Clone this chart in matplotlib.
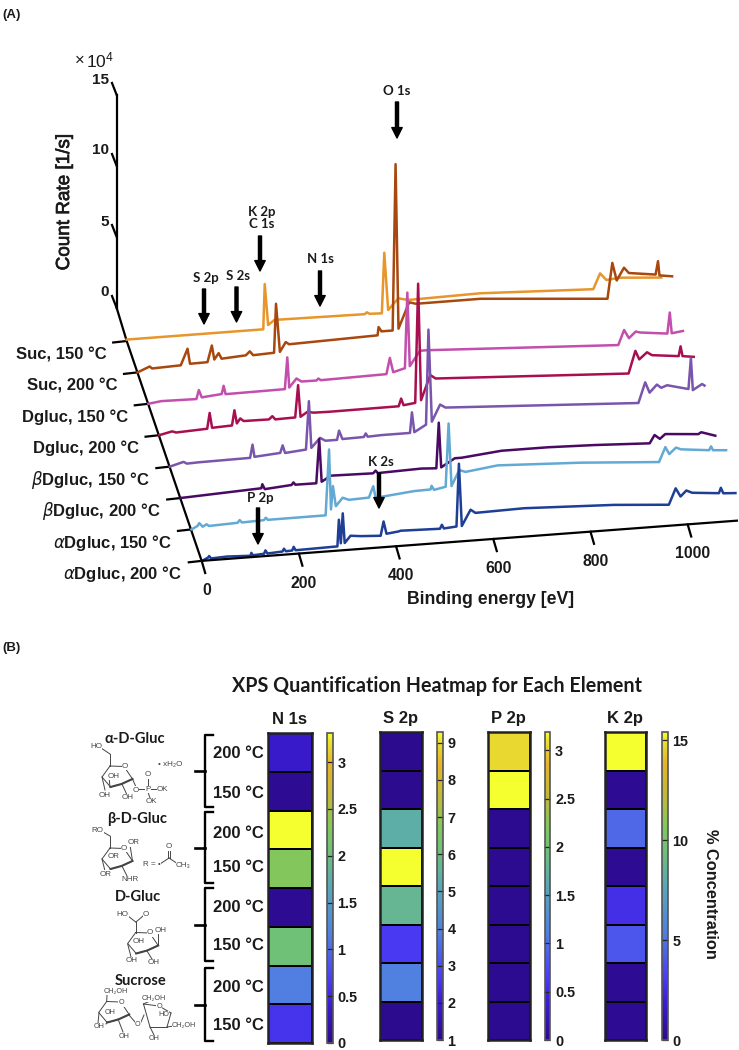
import numpy as np
import matplotlib
matplotlib.use('Agg')
import matplotlib.pyplot as plt
import matplotlib.patheffects as pe
from matplotlib.colors import LinearSegmentedColormap
from matplotlib.transforms import Affine2D

plt.rcParams['font.family'] = ['Liberation Sans', 'DejaVu Sans']
plt.rcParams['mathtext.default'] = 'regular'

# (A) survey spectra, binding energy [eV] and count rate [x10^4 1/s]
suc150_e = [0, 281, 284, 291, 308, 312, 490, 494, 500, 525, 530, 538, 559, 579, 727, 960, 974, 987, 1015, 1100]
suc150_c = [0.1, 0.1, 3.28, 0.38, 0.8, 0.7, 0.63, 0.75, 0.63, 0.6, 4.85, 0.8, 1.57, 1.4, 1.49, 1.18, 2.26, 1.76, 1.85, 1.64]
suc200_e = [0, 25, 30, 89, 103, 108, 144, 153, 158, 167, 173, 223, 231, 238, 281, 285, 293, 305, 312, 494, 496, 502, 525, 531, 537, 559, 573, 706, 967, 977, 986, 1001, 1011, 1066, 1071, 1074, 1100]
suc200_c = [0.0, 0.35, 0.2, 0.27, 1.4, 0.33, 0.35, 1.5, 0.5, 0.93, 0.52, 0.63, 0.89, 0.6, 0.66, 4.1, 0.69, 1.35, 1.18, 1.34, 1.92, 1.6, 1.6, 13.3, 1.7, 3.5, 3.36, 3.37, 2.7, 5.2, 3.94, 4.8, 4.4, 4.15, 5.08, 4.07, 3.94]
dg150_e = [0, 27, 99, 104, 110, 151, 155, 159, 281, 286, 290, 305, 315, 346, 350, 355, 490, 497, 504, 528, 533, 538, 559, 573, 967, 979, 989, 1003, 1012, 1068, 1073, 1077, 1100]
dg150_c = [0.0, 0.12, 0.08, 0.7, 0.17, 0.3, 0.87, 0.27, 0.31, 2.53, 0.4, 1.0, 0.76, 0.75, 0.88, 0.75, 0.83, 1.95, 0.93, 1.15, 6.46, 1.27, 2.3, 2.3, 1.65, 2.68, 2.08, 2.51, 2.42, 2.2, 3.67, 2.2, 2.3]
dg200_e = [0, 27, 35, 99, 104, 109, 150, 155, 160, 167, 174, 226, 233, 239, 280, 286, 291, 305, 318, 349, 493, 498, 503, 527, 533, 539, 558, 569, 966, 980, 988, 1004, 1014, 1069, 1073, 1077, 1100]
dg200_c = [0.0, 0.2, 0.1, 0.2, 1.3, 0.24, 0.3, 1.36, 0.42, 0.75, 0.55, 0.53, 0.74, 0.5, 0.53, 2.79, 0.55, 0.86, 0.77, 0.75, 0.77, 1.3, 0.82, 0.92, 9.3, 1.08, 2.8, 2.53, 1.86, 3.42, 2.8, 3.26, 3.03, 2.82, 3.5, 2.8, 2.69]
bg150_e = [0, 28, 35, 59, 165, 170, 174, 227, 232, 237, 280, 286, 291, 309, 320, 344, 348, 355, 399, 403, 407, 436, 494, 498, 503, 527, 532, 539, 556, 567, 964, 978, 987, 1002, 1011, 1023, 1067, 1072, 1076, 1095, 1100]
bg150_c = [0.0, 0.26, 0.12, 0.15, 0.19, 1.11, 0.24, 0.38, 0.9, 0.35, 0.48, 3.87, 0.57, 1.23, 1.0, 1.0, 1.64, 1.03, 1.06, 1.3, 1.06, 1.1, 1.1, 2.54, 1.13, 1.6, 8.28, 1.78, 2.94, 2.7, 2.0, 3.42, 2.67, 3.2, 2.95, 3.1, 2.72, 4.9, 2.62, 3.0, 2.88]
bg200_e = [0, 166, 168, 173, 228, 232, 236, 279, 285, 290, 300, 307, 396, 401, 406, 413, 495, 526, 531, 536, 564, 578, 660, 756, 852, 965, 975, 986, 997, 1065, 1071, 1100]
bg200_c = [0.0, 0.26, 0.54, 0.18, 0.33, 0.5, 0.33, 0.32, 3.42, 0.4, 0.6, 0.78, 0.72, 0.9, 0.7, 0.72, 0.8, 0.74, 3.94, 0.78, 1.35, 1.35, 1.63, 1.63, 1.54, 1.37, 1.93, 1.63, 1.94, 1.76, 1.88, 1.56]
ag150_e = [0, 12, 16, 23, 31, 36, 95, 99, 104, 149, 153, 157, 276, 283, 287, 291, 297, 311, 324, 365, 374, 379, 458, 492, 494, 499, 523, 529, 535, 551, 564, 630, 801, 962, 975, 983, 997, 1007, 1065, 1069, 1073, 1100]
ag150_c = [0.0, 0.2, 0.4, 0.13, 0.28, 0.15, 0.22, 0.4, 0.22, 0.27, 0.43, 0.27, 0.28, 4.9, 0.67, 2.3, 0.87, 1.43, 1.25, 1.3, 2.08, 1.25, 1.52, 1.55, 1.8, 1.5, 1.66, 6.1, 1.68, 2.76, 2.6, 2.89, 2.64, 2.27, 3.29, 2.78, 3.2, 3.05, 2.84, 3.1, 2.82, 2.75]
ag200_e = [0, 12, 14, 18, 51, 99, 101, 104, 127, 130, 134, 165, 168, 172, 185, 188, 192, 278, 281, 285, 289, 293, 305, 326, 367, 373, 379, 404, 408, 489, 493, 497, 523, 528, 534, 552, 562, 662, 847, 960, 974, 984, 996, 1008, 1063, 1067, 1072, 1097]
ag200_c = [0.0, 0.2, 0.3, 0.12, 0.17, 0.1, 0.3, 0.12, 0.17, 0.4, 0.17, 0.23, 0.42, 0.23, 0.25, 0.5, 0.25, 0.3, 2.17, 0.5, 2.6, 0.5, 0.98, 0.9, 0.82, 1.81, 0.93, 1.03, 1.07, 1.0, 1.27, 1.0, 1.07, 5.48, 1.08, 2.18, 1.93, 2.0, 1.76, 1.48, 2.6, 2.0, 2.39, 2.2, 2.03, 2.4, 2.0, 1.95]

trace_e = [suc150_e, suc200_e, dg150_e, dg200_e, bg150_e, bg200_e, ag150_e, ag200_e]
trace_c = [suc150_c, suc200_c, dg150_c, dg200_c, bg150_c, bg200_c, ag150_c, ag200_c]
trace_colors = ['#E8952B', '#A8480F', '#C24FAC', '#A80F50', '#7A55AC', '#4A0A64', '#62A9D3', '#1F3F95']
trace_names = ['Suc, 150 °C', 'Suc, 200 °C', 'Dgluc, 150 °C', 'Dgluc, 200 °C',
               r'$\mathit{\beta}$Dgluc, 150 °C', r'$\mathit{\beta}$Dgluc, 200 °C',
               r'$\mathit{\alpha}$Dgluc, 150 °C', r'$\mathit{\alpha}$Dgluc, 200 °C']
energy_ticks = [0, 200, 400, 600, 800, 1000]
count_ticks = [0, 5, 10, 15]

# (B) % concentration, rows top to bottom
rows = ['200 °C', '150 °C'] * 4
n1s = [0.35, 0.05, 3.31, 2.3, 0.05, 2.05, 1.15, 0.6]
s2p = [1.05, 1.05, 5.4, 9.29, 5.7, 2.65, 3.9, 1.05]
p2p = [3.05, 3.19, 0.03, 0.03, 0.03, 0.03, 0.03, 0.03]
k2p = [15.4, 0.2, 4.6, 0.2, 2.6, 4.0, 0.2, 0.2]
heat_names = ['N 1s', 'S 2p', 'P 2p', 'K 2p']
heat_values = [n1s, s2p, p2p, k2p]
heat_limits = [(0, 3.31), (1, 9.29), (0, 3.19), (0, 15.4)]
heat_ticks = [[0, 0.5, 1, 1.5, 2, 2.5, 3], [1, 2, 3, 4, 5, 6, 7, 8, 9],
              [0, 0.5, 1, 1.5, 2, 2.5, 3], [0, 5, 10, 15]]

cmap = LinearSegmentedColormap.from_list('xps', [
    (0, '#2C0A8C'), (0.12, '#3A1CD2'), (0.2, '#4A3BF5'), (0.35, '#5080E0'),
    (0.5, '#58A8B8'), (0.62, '#70C178'), (0.7, '#85C85A'), (0.8, '#C4B838'),
    (0.9, '#E6B42A'), (0.97, '#E8E030'), (1, '#F5FF30')])

W, H = 739, 1050
fig = plt.figure(figsize=(W / 100, H / 100), dpi=100)
ax = fig.add_axes([0, 0, 1, 1])
ax.set_xlim(0, W)
ax.set_ylim(H, 0)
ax.axis('off')
CAL = ['Lato', 'DejaVu Sans']
INK = '#1A1A1A'


def projection(i):
    # energy/count to page position for the i-th trace of the waterfall
    x0 = 126.7 + 10.8 * i
    y0 = 341 + 31.4 * i
    return Affine2D.from_values(0.486, -0.0365, 0, -14.2, x0, y0) + ax.transData


def px_axes(x0, y0, x1, y1):
    return fig.add_axes([x0 / W, 1 - y1 / H, (x1 - x0) / W, (y1 - y0) / H])


ax.text(2, 15, '(A)', fontsize=9.5, fontweight='bold', va='center', color=INK)
ax.text(2, 648, '(B)', fontsize=9.5, fontweight='bold', va='center', color=INK)

for i in range(8):
    ax.plot(trace_e[i], trace_c[i], color=trace_colors[i], lw=1.8, transform=projection(i),
            solid_joinstyle='round', zorder=3 + i * 0.1)

# axes of the waterfall
front = projection(7)
ax.plot([116.7, 116.7], [95, 308], color='k', lw=1.6, zorder=2)
ax.plot([116.7, 126.7, 201.7], [308, 341, 561], color='k', lw=1.6, zorder=2)
ax.plot([0, 1100], [0, 0], color='k', lw=1.6, transform=front, zorder=4.5)
for t in count_ticks:
    yt = 308 - t * 14.2
    ax.plot([112, 116.7], [yt - 12, yt], color='k', lw=1.6)
    ax.text(109, yt - 15.5, str(t), ha='right', va='center', fontsize=11, fontweight='bold', color=INK)
for i in range(8):
    xs, ys = 126.7 + 10.8 * i, 341 + 31.4 * i
    ax.plot([xs - 13.5, xs], [ys + 1.5, ys], color='k', lw=1.6)
    ax.text(xs - 20, ys + 13.5, trace_names[i], ha='right', va='center', fontsize=12,
            fontweight='bold', color=INK)
for t in energy_ticks:
    xt, yt = 201.7 + 0.486 * t, 561 - 0.0365 * t
    ax.plot([xt, xt + 3.5], [yt, yt + 12], color='k', lw=1.6)
    ax.text(xt + 5, yt + 29.5, str(t), ha='center', va='center', fontsize=11.3, fontweight='bold', color=INK)
ax.text(491, 599.5, 'Binding energy [eV]', ha='center', va='center', fontsize=12.7, fontweight='bold', color=INK)
ax.text(64.5, 202.5, 'Count Rate [1/s]', rotation=90, ha='center', va='center', fontsize=13.6, color=INK,
        path_effects=[pe.withStroke(linewidth=0.5, foreground=INK)])
ax.text(75, 60, '×', fontsize=12, va='center', color=INK)
ax.text(86, 60, '10$^{4}$', fontsize=12.5, va='center', color=INK)

# peak markers
peak_labels = [('O 1s', 397, 91, 397, 102, 138), ('K 2p\nC 1s', 262, 218, 260, 236, 271),
               ('N 1s', 320, 259, 320, 271, 306), ('S 2p', 206, 278, 204, 289, 324),
               ('S 2s', 238.5, 276, 236.5, 287, 322), ('P 2p', 260, 498, 258, 508, 544),
               ('K 2s', 380.5, 462, 379, 473, 508)]
for name, tx, ty, ax_x, y_from, y_to in peak_labels:
    ax.text(tx, ty, name, family=CAL, fontweight='bold', fontsize=9.5, ha='center', va='center',
            color=INK, linespacing=1.0, zorder=6)
    ax.annotate('', xy=(ax_x, y_to), xytext=(ax_x, y_from), zorder=6,
                arrowprops=dict(width=2.2, headwidth=7.5, headlength=7.5, color='k', shrink=0))

# (B) heatmaps
ax.text(436.5, 686, 'XPS Quantification Heatmap for Each Element', family=CAL, fontweight='bold',
        fontsize=14.2, ha='center', va='center', color=INK)
heat_x = [(268, 312), (379.5, 421.5), (487.5, 529.5), (604.5, 646)]
bar_x = [(326.5, 332.5), (437.5, 442.7), (545, 550.3), (662.3, 667.7)]
for k in range(4):
    y0, y1 = (733, 1043) if k == 0 else (732, 1040)
    hax = px_axes(heat_x[k][0], y0, heat_x[k][1], y1)
    mesh = hax.pcolormesh(np.array(heat_values[k]).reshape(-1, 1), cmap=cmap, vmin=heat_limits[k][0],
                          vmax=heat_limits[k][1], edgecolors='k', linewidth=1.2)
    hax.invert_yaxis()
    hax.set_xticks([])
    hax.set_yticks([])
    for s in hax.spines.values():
        s.set_linewidth(1.8)
        s.set_color('#222222')
    cax = px_axes(bar_x[k][0], y0, bar_x[k][1], y1)
    cb = fig.colorbar(mesh, cax=cax)
    cb.set_ticks(heat_ticks[k])
    cb.set_ticklabels([f'{v:g}' for v in heat_ticks[k]])
    cb.ax.tick_params(direction='in', length=4, width=0.9, color='#222222', pad=3.5, labelsize=10.4)
    for lab in cb.ax.get_yticklabels():
        lab.set_fontweight('bold')
        lab.set_color(INK)
    cb.outline.set_edgecolor('#555555')
    cb.outline.set_linewidth(1.2)
    ax.text(sum(heat_x[k]) / 2, 719, heat_names[k], fontsize=12, fontweight='bold', ha='center', va='center', color=INK)
ax.text(710, 894, '% Concentration', rotation=270, ha='center', va='center', fontsize=11.8, fontweight='bold', color=INK)

# temperature labels and brackets
row_y = [753, 793, 833, 867, 908, 946, 987, 1025]
for lab, yr in zip(rows, row_y):
    ax.text(238, yr, lab, fontsize=12, fontweight='bold', ha='center', va='center', color=INK)
for top, bot in [(735, 807), (812, 883), (888, 961), (968, 1041)]:
    mid = (top + bot) / 2
    ax.plot([213, 205, 205, 213], [top, top, bot, bot], color='k', lw=1.7, solid_joinstyle='round')
    ax.plot([195, 205], [mid, mid], color='k', lw=1.9)

# sugar sketches
GREY = '#444444'
CHAIR = [(0, 0), (14, 0.5), (22.5, 13), (11.5, 18), (0.5, 21), (-8, 11), (0, 0)]


def chem(items, size=5.8):
    for s, x, y in items:
        ax.text(x, y, s, fontsize=size, color=GREY, ha='center', va='center', zorder=5,
                bbox=dict(fc='white', ec='none', pad=0.2))


def chair(x, y):
    px = [x + a for a, b in CHAIR]
    py = [y + b for a, b in CHAIR]
    ax.plot(px, py, color=GREY, lw=0.7, zorder=4)
    ax.plot(px[2:5], py[2:5], color=GREY, lw=1.5, zorder=4)


def bonds(segs):
    for x0, y0, x1, y1 in segs:
        ax.plot([x0, x1], [y0, y1], color=GREY, lw=0.7, zorder=4)


for name, x, y in [('α-D-Gluc', 135, 739), ('β-D-Gluc', 137.5, 819), ('D-Gluc', 137.5, 897), ('Sucrose', 141, 981)]:
    ax.text(x, y, name, family=CAL, fontweight='bold', fontsize=10.5, ha='center', va='center', color=INK)

chair(110, 766)
bonds([(110, 766, 110, 754), (110, 754, 101, 748), (102, 777, 105, 790), (110, 787, 109, 777), (122, 784, 127, 795),
       (132.5, 779, 136, 787), (139, 789, 145, 789), (150, 789, 157, 789), (147.7, 786, 147.7, 779), (148, 792, 150, 798)])
chem([('HO', 96, 747), ('O', 125, 766.5), ('OH', 113.5, 776), ('OH', 105, 795.5), ('OH', 127.5, 797.5), ('O', 135.7, 790),
      ('P', 147.7, 789.3), ('O', 147.7, 775), ('OK', 162.5, 789.3), ('OK', 151, 801.5), ('• xH₂O', 170, 764.5)])
chair(110, 848)
bonds([(110, 848, 110, 836), (110, 836, 103, 832), (132.5, 861, 130, 845), (102, 859, 105, 871), (122, 866, 127, 876),
       (160, 864, 169, 858), (169, 858, 178, 864), (168, 858, 168, 851), (170, 858, 170, 851)])
chem([('RO', 97.5, 831), ('OR', 133.5, 843), ('O', 124, 848.5), ('OR', 113.5, 856.5), ('OR', 106, 874), ('NHR', 129.5, 879.5),
      ('R = •', 151.5, 864), ('O', 169, 847), ('CH₃', 183.5, 865)])
chair(135.7, 932.5)
bonds([(135.7, 932.5, 135.7, 922), (135.7, 922, 128, 916), (136, 922, 143, 916), (158, 945, 158, 934), (127.7, 944, 131, 957),
       (147, 951, 152, 959)])
chem([('HO', 122.5, 914), ('O', 146, 914), ('OH', 161, 930.5), ('O', 150, 933), ('OH', 138.5, 941.5), ('OH', 131.5, 960.5), ('OH', 153.5, 962.5)])
chair(106.7, 1001.5)
bonds([(106.7, 1001.5, 107, 995), (99, 1013, 98, 1023), (107, 1022, 106, 1024), (118, 1019, 123, 1032), (129, 1015, 135, 1022),
       (141, 1022, 144, 1015), (143.5, 1004, 159, 1006), (159, 1006, 171, 1013), (171, 1013, 167, 1027), (167, 1027, 150, 1027),
       (150, 1027, 143.5, 1004), (143.5, 1004, 150, 1001), (150, 1027, 154, 1035), (167, 1027, 174, 1026)])
chem([('CH₂OH', 116, 991.5), ('CH₂OH', 153.5, 998.5), ('O', 121.5, 1003), ('O', 159, 1006), ('OH', 110, 1013), ('HO', 163.5, 1015),
      ('O', 137.7, 1024), ('OH', 99, 1026.5), ('OH', 124.5, 1036.5), ('OH', 154, 1039), ('CH₂OH', 184, 1026)], size=5.2)

fig.savefig('out.png', dpi=100)
